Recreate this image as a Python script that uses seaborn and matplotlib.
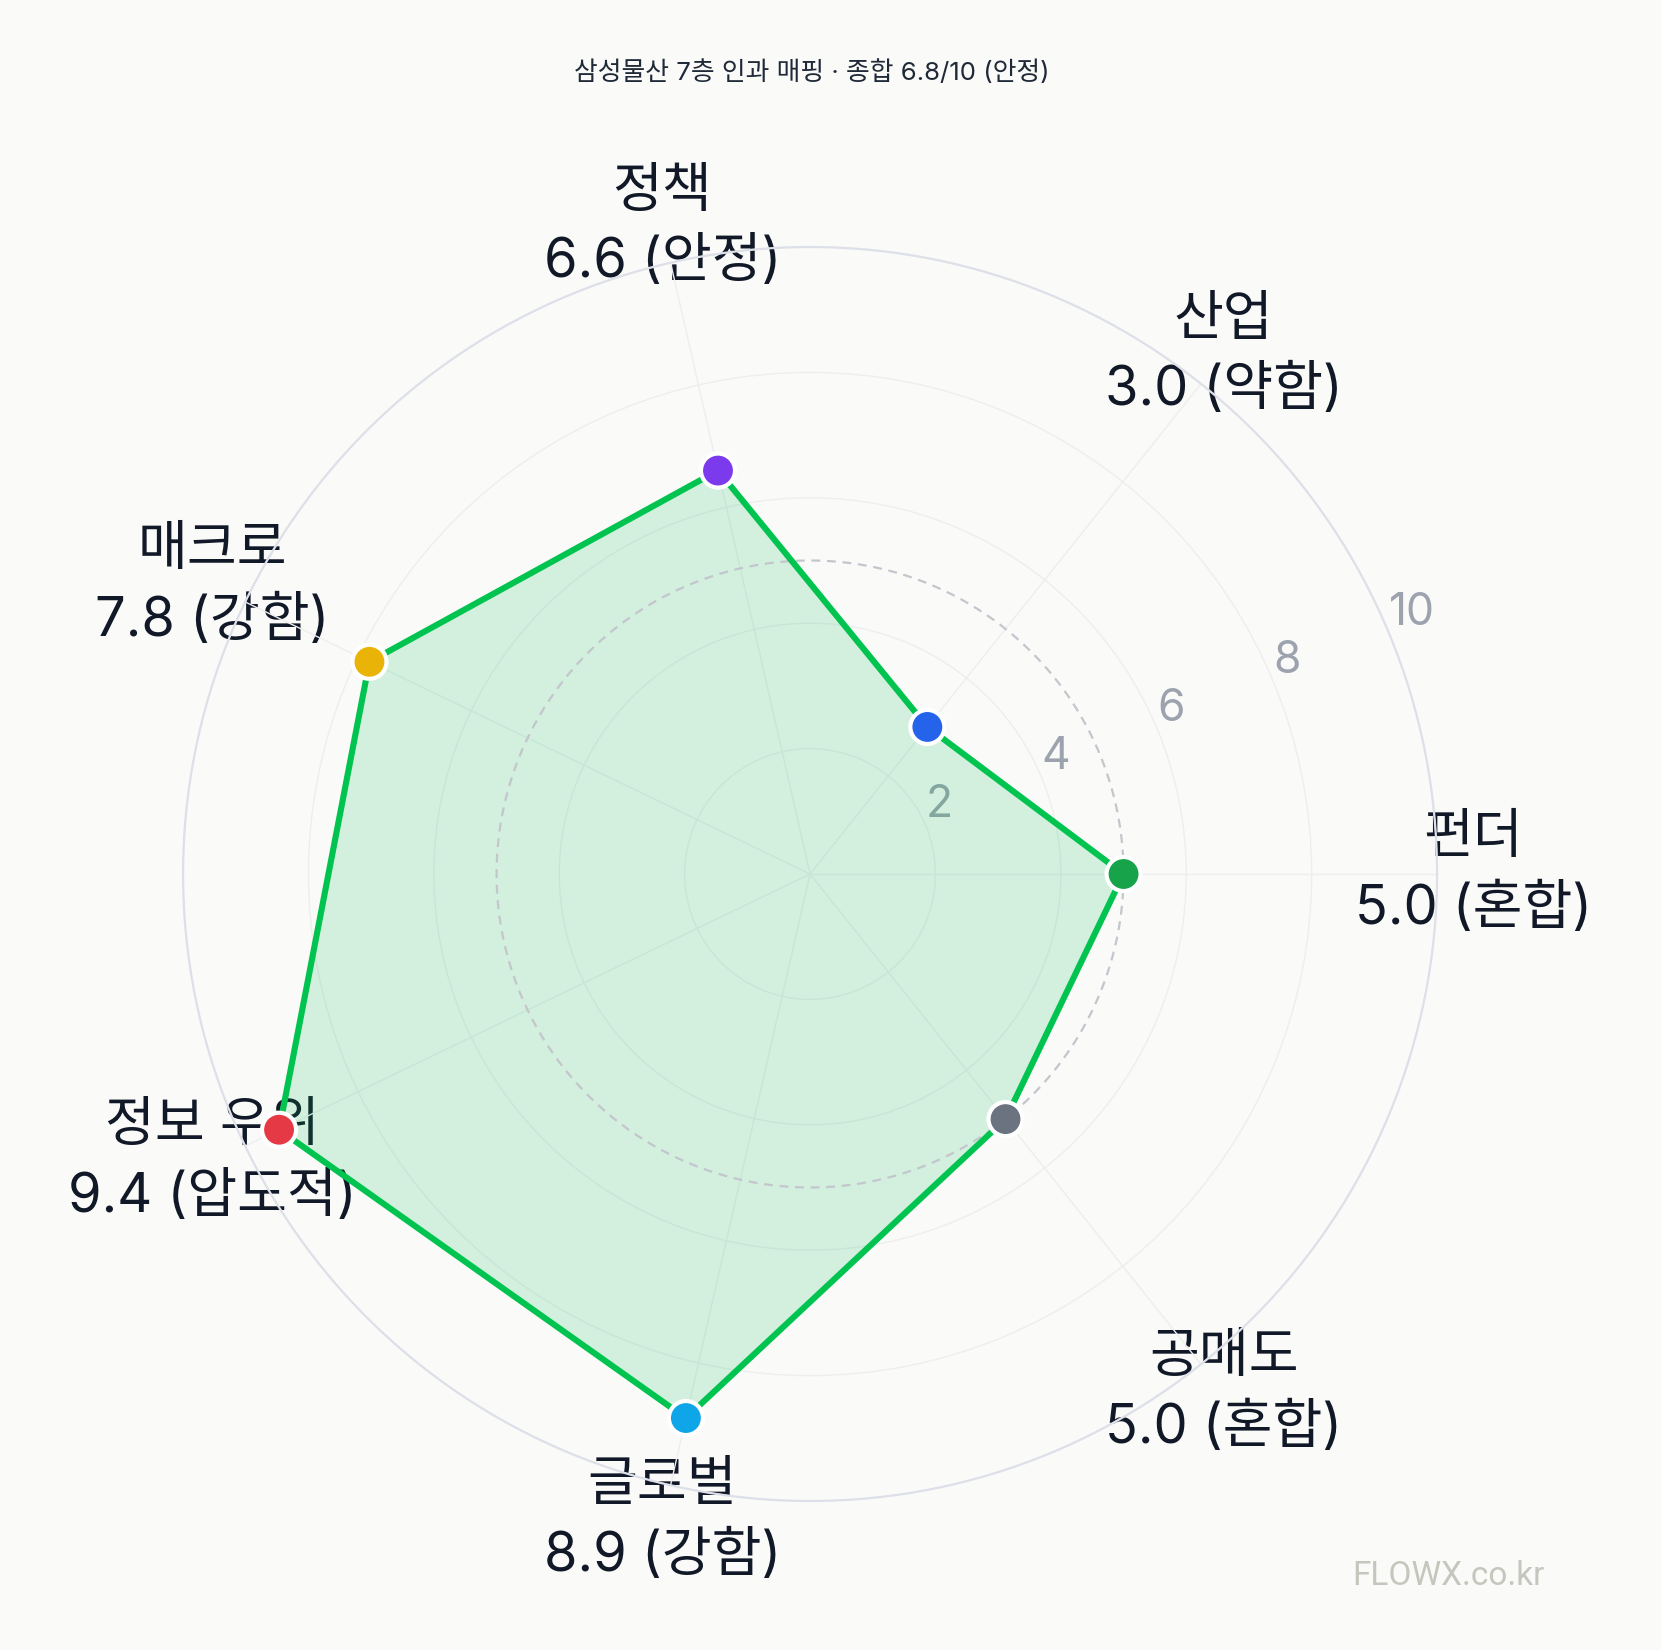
import numpy as np
import matplotlib
matplotlib.use("Agg")
import matplotlib.pyplot as plt
import seaborn as sns

categories = ["펀더", "산업", "정책", "매크로", "정보 우위", "글로벌", "공매도"]
values = [5.0, 3.0, 6.6, 7.8, 9.4, 8.9, 5.0]
grades = ["혼합", "약함", "안정", "강함", "압도적", "강함", "혼합"]
point_colors = ["#16a34a", "#2563eb", "#7c3aed", "#eab308", "#e63946", "#0ea5e9", "#6b7280"]
r_ticks = [2, 4, 6, 8, 10]
title = "삼성물산 7층 인과 매핑 · 종합 6.8/10 (안정)"
watermark = "FLOWX.co.kr"

sns.set_theme(style="white")
FONTS = ["Inter", "Noto Sans CJK KR", "DejaVu Sans"]
plt.rcParams["font.family"] = FONTS

BG = "#fafaf8"
fig = plt.figure(figsize=(16.61, 16.50), dpi=100, facecolor=BG)
ax = fig.add_axes([0.1102, 0.0903, 0.755, 0.760], projection="polar")
ax.set_facecolor(BG)

n = len(categories)
theta = np.arange(n) * 2 * np.pi / n
theta_c = np.append(theta, theta[0])
vals_c = np.append(values, values[0])

ax.fill(theta_c, vals_c, color="#05bd55", alpha=0.16, zorder=2, linewidth=0)
sns.lineplot(x=theta_c, y=vals_c, sort=False, estimator=None, ax=ax,
             color="#00c44f", linewidth=4.4, zorder=3)
sns.scatterplot(x=theta, y=values, hue=categories, palette=point_colors,
                ax=ax, s=600, edgecolor="white", linewidth=3, zorder=4,
                legend=False)

# dashed reference ring at 5
ring_t = np.linspace(0, 2 * np.pi, 400)
ax.plot(ring_t, np.full_like(ring_t, 5.0), linestyle=(0, (4, 3)),
        color="#c3c6cc", linewidth=1.6, zorder=2.5)

ax.set_ylim(0, 10)
ax.set_yticks(r_ticks)
ax.set_yticklabels([])
ax.set_xticks(theta)
ax.set_xticklabels([])
ax.grid(True, color="#eeeeee", linewidth=1.0)
ax.spines["polar"].set_color("#dde0e8")
ax.spines["polar"].set_linewidth(1.6)

rlab = np.deg2rad(22.5)
for r in r_ticks:
    ax.text(rlab, r, str(r), ha="left", va="bottom", fontsize=32,
            color="#9ca3af", zorder=1)

for t, c, v, g in zip(theta, categories, values, grades):
    ax.text(t, 10.58, f"{c}\n{v:.1f} ({g})", ha="center", va="center",
            fontsize=39, color="#111827", linespacing=1.45, zorder=0.5)

fig.text(0.4885, 0.956, title, ha="center", va="center", fontsize=18.6,
         color="#1f2937")
fig.text(0.872, 0.045, watermark, ha="center", va="center", fontsize=24,
         color="#c6c6be", family=["Roboto"], fontweight="normal")

fig.savefig("out.png", dpi=100, facecolor=BG)
